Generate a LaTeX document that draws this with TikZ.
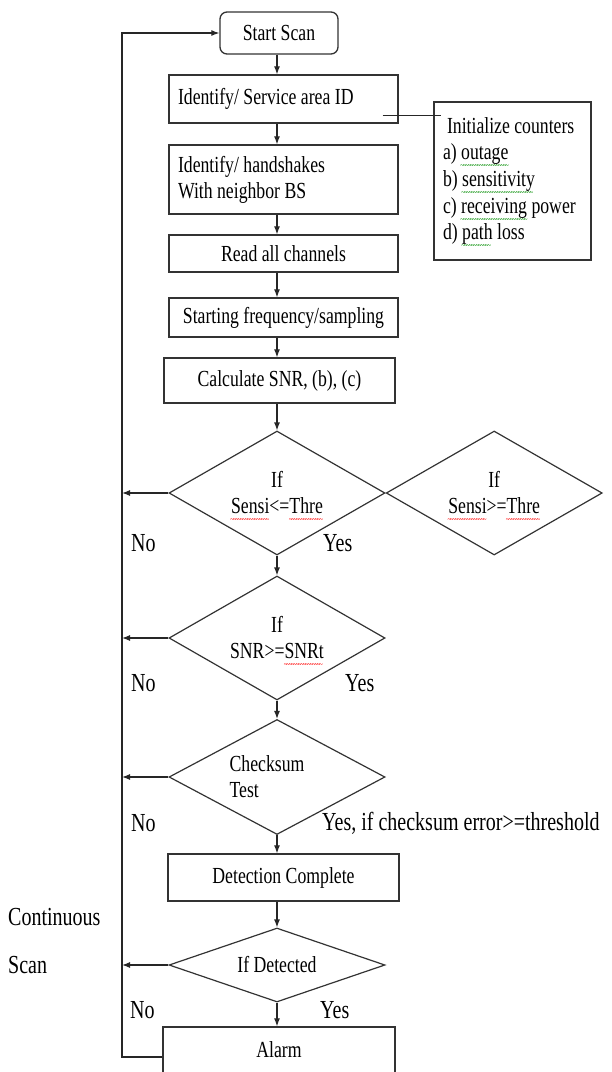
\documentclass[tikz,border=0pt]{standalone}
\usepackage{fontspec}
\setmainfont[FakeStretch=0.77]{Liberation Serif}
\usetikzlibrary{shapes.geometric,positioning,arrows.meta}
\newcommand\wavy[2]{\setbox0\hbox{#2}\rlap{\raisebox{-9pt}[0pt][0pt]{\color{#1}\fontsize{9}{9}\selectfont\hbox to\wd0{\leaders\hbox{\kern-0.7pt\char"7E\kern-0.7pt}\hfill}}}\box0\relax}
\newcommand\boxfont{\fontsize{23}{26}\selectfont}
\newcommand\lblfont{\fontsize{26}{30}\selectfont}

\tikzset{
  procbox/.style={draw=black!80, line width=1.3pt, inner sep=0pt, font=\boxfont, align=center, execute at begin node={\spaceskip=0pt\xspaceskip=0pt\relax}},
  leftbox/.style={procbox, inner xsep=9pt, text width=211pt, align=left},
  decide/.style={diamond, draw=black!80, line width=1.2pt, inner sep=0pt, minimum width=216pt, font=\boxfont, align=center, execute at begin node={\spaceskip=0pt\xspaceskip=0pt\relax}},
  flowarr/.style={-{Latex[length=8pt,width=6pt]}, line width=1.2pt, draw=black!85},
  lbl/.style={font=\lblfont, inner sep=0pt, anchor=west}
}

\begin{document}
\begin{tikzpicture}[x=1pt, y=-1pt]
	%%%%% FRAME %%%%%
	\useasboundingbox (0,0) rectangle (612,1072);
	\clip (0,0) rectangle (612,1072);
	
	\coordinate (col) at (277,0);
	\coordinate (rail) at (122,33);
	
	%%%%% BOXES %%%%%
	\node[procbox, rounded corners=7pt, minimum width=118pt, minimum height=42pt] (start) at (279,33) {Start Scan};
	\node[leftbox, minimum height=48pt] (ident) at (283.5,99) {Identify/ Service area ID};
	\node[leftbox, minimum height=69pt] (hand) at (283.5,179.5) {Identify/ handshakes\\With neighbor BS};
	\node[procbox, minimum width=229pt, minimum height=37pt] (read) at (283.5,253.5) {Read all channels};
	\node[procbox, minimum width=229pt, minimum height=39pt] (freq) at (283.5,317.5) {Starting frequency/sampling};
	\node[procbox, minimum width=231pt, minimum height=45pt] (calc) at (279.5,380.5) {Calculate SNR, (b), (c)};
	
	\node[procbox, align=left, text width=139pt, inner xsep=9pt, minimum height=158pt, font=\fontsize{23}{26.7}\selectfont] (init) at (512.5,181)
		{\hspace*{4pt}Initialize counters\\a) \wavy{green!55!black}{outage}\\b) \wavy{green!55!black}{sensitivity}\\c) \wavy{green!55!black}{receiving} power\\d) \wavy{green!55!black}{path} loss};
	
	%%%%% DECISIONS %%%%%
	\node[decide, minimum height=124pt, aspect=1.742] (d1) at (277,493) {If\\\wavy{red}{Sensi}<=\wavy{red}{Thre}};
	\node[decide, minimum height=124pt, aspect=1.742, right=0pt of d1] (d2) {If\\\wavy{red}{Sensi}>=\wavy{red}{Thre}};
	\node[decide, minimum height=124pt, aspect=1.742] (d3) at (277,638) {If\\SNR>=\wavy{red}{SNRt}};
	\node[decide, minimum height=115pt, aspect=1.878, align=left] (d4) at (277,777) {Checksum\hspace*{20pt}\\Test};
	
	\node[procbox, minimum width=231pt, minimum height=47pt] (detect) at (283.5,877.5) {Detection Complete};
	\node[decide, minimum height=74pt, aspect=2.92] (d5) at (277,965) {If Detected};
	\node[procbox, minimum width=232pt, minimum height=46pt] (alarm) at (279,1050) {Alarm};
	
	%%%%% CONNECTORS %%%%%
	\foreach \a/\b in {start/ident, ident/hand, hand/read, read/freq, freq/calc, calc/d1, d1/d3, d3/d4, d4/detect, detect/d5, d5/alarm}
		\draw[flowarr] (\a.south -| col) -- (\b.north -| col);
	
	\foreach \d in {d1,d3,d4,d5}
		\draw[flowarr] (\d.west) -- (\d.west -| rail);
	
	\draw[flowarr] ([yshift=-7pt]alarm.west) -| (rail) -- (start.west);
	\coordinate (tap) at ([shift={(-16,-8)}]ident.south east);
	\draw[line width=1.2pt, black!85] (tap) -- ([xshift=8pt]tap -| init.west);
	
	%%%%% LABELS %%%%%
	\node[lbl] (no1) at (131,543) {No};
	\node[lbl] (yes1) at (323,543) {Yes};
	\node[lbl] (no2) at (131,683) {No};
	\node[lbl] (yes2) at (345,683) {Yes};
	\node[lbl] (no3) at (131,823) {No};
	\node[lbl] (yes3) at (322,823) {Yes, if checksum error>=threshold};
	\node[lbl] (no4) at (130,1010) {No};
	\node[lbl] (yes4) at (320,1010) {Yes};
	\node[lbl] (cont) at (8,917) {Continuous};
	\node[lbl] (scan) at (8,965) {Scan};
\end{tikzpicture}
\end{document}
